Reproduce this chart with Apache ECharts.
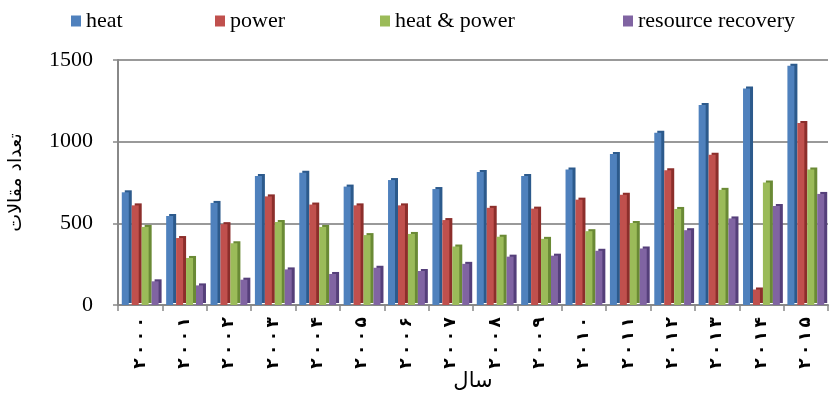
<!DOCTYPE html>
<html>
<head>
<meta charset="utf-8">
<script src="https://cdn.jsdelivr.net/npm/echarts@6/dist/echarts.min.js"></script>
<style>
html,body{margin:0;padding:0;background:#fff;}
#chart{width:830px;height:394px;}
</style>
</head>
<body>
<div id="chart"></div>
<script>
const years = ['۲۰۰۰','۲۰۰۱','۲۰۰۲','۲۰۰۳','۲۰۰۴','۲۰۰۵','۲۰۰۶','۲۰۰۷','۲۰۰۸','۲۰۰۹','۲۰۱۰','۲۰۱۱','۲۰۱۲','۲۰۱۳','۲۰۱۴','۲۰۱۵'];
const seriesNames = ['heat','power','heat & power','resource recovery'];
const heat = [690, 545, 625, 790, 810, 725, 765, 710, 815, 790, 830, 925, 1055, 1225, 1325, 1465];
const power = [610, 410, 495, 665, 615, 610, 610, 520, 595, 590, 645, 675, 825, 920, 95, 1115];
const heatPower = [478, 288, 378, 508, 478, 428, 435, 358, 418, 405, 452, 502, 588, 705, 750, 830];
const resourceRecovery = [145, 120, 155, 218, 190, 228, 208, 252, 296, 302, 332, 346, 458, 530, 606, 680];
const yTicks = [0, 500, 1000, 1500];

const colors = ['#4F81BD','#C0504D','#9BBB59','#8064A2'];
const sideColors = ['#2C5A8C','#8C2E2B','#6A8A35','#553F7A'];
const values = [heat, power, heatPower, resourceRecovery];

const chart = echarts.init(document.getElementById('chart'));
const legendLefts = [66, 210, 375, 618];
chart.setOption({
  animation: false,
  backgroundColor: '#fff',
  legend: seriesNames.map((n, i) => ({
    data: [n],
    left: legendLefts[i],
    top: 5,
    icon: 'rect',
    itemWidth: 10,
    itemHeight: 11,
    itemGap: 0,
    textStyle: { fontFamily: 'Liberation Serif', fontSize: 22, color: '#000', padding: [0,0,0,0] }
  })),
  grid: { left: 118, right: 2, top: 60, bottom: 89, containLabel: false, outerBoundsMode: 'none' },
  xAxis: {
    type: 'category',
    data: years,
    name: 'سال',
    nameLocation: 'middle',
    nameGap: 66,
    nameMoveOverlap: false,
    nameTextStyle: { fontFamily: 'DejaVu Sans', fontSize: 21, color: '#000' },
    axisLine: { lineStyle: { color: '#888', width: 2 } },
    axisTick: { show: true, alignWithLabel: false, length: 6, lineStyle: { color: '#888', width: 1.5 } },
    axisLabel: {
      rotate: 90, margin: 12, fontFamily: 'DejaVu Sans', fontWeight: 'bold', fontSize: 17, color: '#000', interval: 0,
      formatter: v => v.split('').join('\u2009')
    }
  },
  yAxis: {
    type: 'value',
    min: 0,
    max: 1500,
    interval: 500,
    name: 'تعداد مقالات',
    nameLocation: 'middle',
    nameRotate: 90,
    nameGap: 92,
    nameMoveOverlap: false,
    nameTextStyle: { fontFamily: 'DejaVu Sans', fontSize: 19, color: '#000' },
    axisLine: { show: true, lineStyle: { color: '#888', width: 2 } },
    axisTick: { show: true, length: 5, lineStyle: { color: '#888', width: 1.5 } },
    splitLine: { lineStyle: { color: '#999', width: 2 } },
    axisLabel: {
      margin: 25,
      fontFamily: 'Liberation Serif',
      fontSize: 22,
      color: '#000',
      formatter: v => yTicks.includes(v) ? String(v) : ''
    }
  },
  series: seriesNames.map((n, i) => ({
    name: n,
    type: 'bar',
    data: values[i],
    barWidth: 7,
    barGap: '42%',
    itemStyle: {
      color: colors[i],
      shadowColor: sideColors[i],
      shadowOffsetX: 3,
      shadowOffsetY: -2,
      shadowBlur: 0
    }
  }))
});
</script>
</body>
</html>
